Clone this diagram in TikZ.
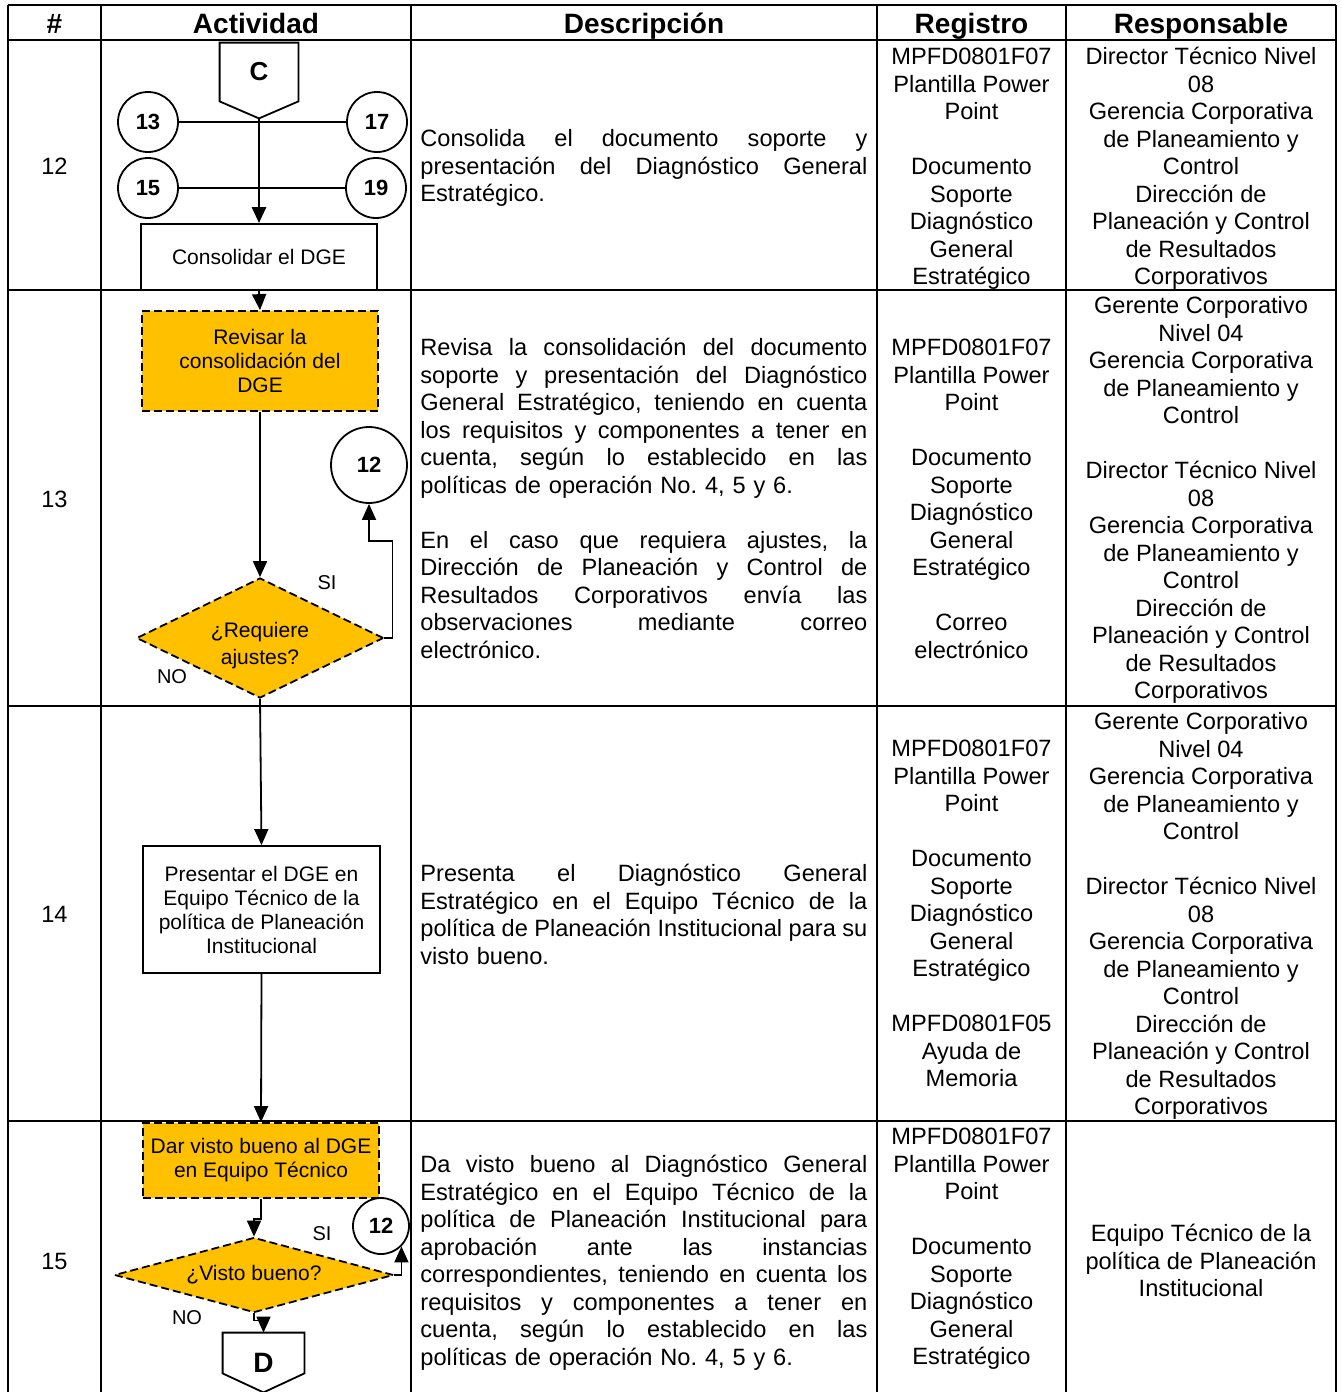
\documentclass[tikz,border=0pt]{standalone}
\usepackage{fontspec}
\setmainfont{Liberation Sans}
\usetikzlibrary{shapes.geometric,arrows.meta,calc}
\definecolor{gold}{HTML}{FFC000}
\newlength\dw \setlength\dw{223.5pt}
\newcommand\jl[1]{\leavevmode\hbox to\dw{\spaceskip=0.278em plus 1fil minus 0.1em\relax #1}}
\frenchspacing
\begin{document}
\begin{tikzpicture}[x=0.5pt,y=-0.5pt,
  tbl/.style={line width=1pt},
  body/.style={font=\fontsize{11.8pt}{13.75pt}\selectfont\frenchspacing, inner sep=0pt},
  hdr/.style={font=\fontsize{14pt}{16pt}\selectfont\bfseries, inner sep=0pt, anchor=base},
  flow/.style={font=\fontsize{10.5pt}{12pt}\selectfont, align=center, inner sep=1pt},
  proc/.style={flow, draw, line width=0.9pt, rectangle},
  dsh/.style={dash pattern=on 4pt off 2pt},
  dproc/.style={proc, dsh, fill=gold},
  dec/.style={flow, diamond, draw, line width=0.9pt, dsh, fill=gold, inner sep=0pt},
  conn/.style={circle, draw, line width=0.9pt, inner sep=0pt, font=\fontsize{11pt}{13pt}\selectfont\bfseries},
  lbl/.style={font=\fontsize{10pt}{12pt}\selectfont, inner sep=0pt},
  arr/.style={line width=0.9pt, -{Triangle[width=7pt,length=8pt]}},
  ln/.style={line width=0.8pt},
  pent/.style={line width=0.9pt}
]
\fill[white] (0,0) rectangle (1342,1392);
\useasboundingbox (0,0) rectangle (1342,1392);

% headers
\node[hdr] (h1) at (54.5,33) {\#};
\node[hdr] (h2) at (256,33) {Actividad};
\node[hdr] (h3) at (644,33) {Descripción};
\node[hdr] (h4) at (971.5,33) {Registro};
\node[hdr] (h5) at (1201,33) {Responsable};

% row numbers
\node[body] (n12) at (54.5,166) {12};
\node[body] (n13) at (54.5,499) {13};
\node[body] (n14) at (54.5,914) {14};
\node[body] (n15) at (54.5,1261) {15};

% ---------- row 12 flow ----------
\node[font=\fontsize{13pt}{15pt}\selectfont\bfseries, minimum width=39pt, minimum height=29pt, inner sep=0pt] (Cl) at (259,72) {C};
\draw[pent] (Cl.north west) -- (Cl.north east) -- (Cl.south east) -- ($(Cl.south)+(0,17)$) coordinate (Ctip) -- (Cl.south west) -- cycle;
\node[conn, minimum size=30pt] (c13) at (148,122) {13};
\node[conn, minimum size=30pt] (c17) at (377,122) {17};
\node[conn, minimum size=30pt] (c15) at (148,188) {15};
\node[conn, minimum size=30pt] (c19) at (376,188) {19};
\draw[ln] (c13) -- (c17);
\draw[ln] (c15) -- (c19);
\node[proc, minimum width=118pt, minimum height=33pt] (b1) at (259,257) {Consolidar el DGE};
\draw[line width=1.4pt, -{Triangle[width=7pt,length=8pt]}] (Ctip) -- (b1.north);

% ---------- row 13 flow ----------
\node[dproc, minimum width=118pt, minimum height=50pt] (rev) at (260,361) {Revisar la\\consolidación del\\DGE};
\draw[arr] (b1.south) -- (rev.north);
\node[dec, aspect=2.06, minimum width=123.5pt, minimum height=60pt] (d1) at (260,638) {\raisebox{-3.7pt}[\height][\depth]{\shortstack{¿Requiere\\[0.5pt]ajustes?}}};
\draw[arr] (rev.south) -- (d1.north);
\node[conn, minimum size=38pt] (c12a) at (369,465) {12};
\draw[arr] (d1.east) -- ++(8,0) |- ($(c12a.south)+(0,37)$) -- (c12a.south);
\node[lbl] (si1) at (327,583) {SI};
\node[lbl] (no1) at (172,677) {NO};

% ---------- row 14 flow ----------
\node[proc, minimum width=118.5pt, minimum height=63.5pt] (pres) at (261.5,909.5) {Presentar el DGE en\\Equipo Técnico de la\\política de Planeación\\Institucional};
\draw[arr] (d1.south) -- (pres.north);

% ---------- row 15 flow ----------
\node[dproc, minimum width=118pt, minimum height=37.5pt] (dar) at (261,1160.5) {Dar visto bueno al DGE\\en Equipo Técnico};
\draw[arr] (pres.south) -- (dar.north);
\node[dec, aspect=3.72, minimum width=139.5pt, minimum height=37.5pt] (d2) at (254,1275) {¿Visto bueno?};
\draw[arr] (dar.south) -- ++(0,20) -| (d2.north);
\node[conn, minimum size=28pt] (c12b) at (381,1226) {12};
\draw[arr] (d2.east) -| (c12b.-45);
\node[lbl] (si2) at (322,1234) {SI};
\node[lbl] (no2) at (187,1318) {NO};
\node[font=\fontsize{14pt}{16pt}\selectfont\bfseries, minimum width=40.5pt, minimum height=29.5pt, inner sep=0pt] (Dl) at (263.5,1362.5) {D};
\draw[pent] (Dl.north west) -- (Dl.north east) -- ($(Dl.south east)+(0,-19)$) -- (Dl.south) -- ($(Dl.south west)+(0,-19)$) -- cycle;
\draw[arr] (d2.south) -- ++(0,7) -| (Dl.north);

% ---------- descriptions ----------
\node[body, text width=\dw, align=left, anchor=north west] (ds12) at (420,127) {\strut\jl{Consolida el documento soporte y}\\\jl{presentación del Diagnóstico General}\\Estratégico.};
\node[body, text width=\dw, align=left, anchor=north west] (ds13) at (420,336) {\strut\jl{Revisa la consolidación del documento}\\\jl{soporte y presentación del Diagnóstico}\\\jl{General Estratégico, teniendo en cuenta}\\\jl{los requisitos y componentes a tener en}\\\jl{cuenta, según lo establecido en las}\\políticas de operación No. 4, 5 y 6.\\\mbox{}\\\jl{En el caso que requiera ajustes, la}\\\jl{Dirección de Planeación y Control de}\\\jl{Resultados Corporativos envía las}\\\jl{observaciones mediante correo}\\electrónico.};
\node[body, text width=\dw, align=left, anchor=north west] (ds14) at (420,862) {\strut\jl{Presenta el Diagnóstico General}\\\jl{Estratégico en el Equipo Técnico de la}\\\jl{política de Planeación Institucional para su}\\visto bueno.};
\node[body, text width=\dw, align=left, anchor=north west] (ds15) at (420,1153) {\strut\jl{Da visto bueno al Diagnóstico General}\\\jl{Estratégico en el Equipo Técnico de la}\\\jl{política de Planeación Institucional para}\\\jl{aprobación ante las instancias}\\\jl{correspondientes, teniendo en cuenta los}\\\jl{requisitos y componentes a tener en}\\\jl{cuenta, según lo establecido en las}\\políticas de operación No. 4, 5 y 6.};

% ---------- registro ----------
\node[body, align=center, anchor=north] (rg12) at (971.5,45) {\strut MPFD0801F07\\Plantilla Power\\Point\\\mbox{}\\Documento\\Soporte\\Diagnóstico\\General\\Estratégico};
\node[body, align=center, anchor=north] (rg13) at (971.5,336) {\strut MPFD0801F07\\Plantilla Power\\Point\\\mbox{}\\Documento\\Soporte\\Diagnóstico\\General\\Estratégico\\\mbox{}\\Correo\\electrónico};
\node[body, align=center, anchor=north] (rg14) at (971.5,737) {\strut MPFD0801F07\\Plantilla Power\\Point\\\mbox{}\\Documento\\Soporte\\Diagnóstico\\General\\Estratégico\\\mbox{}\\MPFD0801F05\\Ayuda de\\Memoria};
\node[body, align=center, anchor=north] (rg15) at (971.5,1125) {\strut MPFD0801F07\\Plantilla Power\\Point\\\mbox{}\\Documento\\Soporte\\Diagnóstico\\General\\Estratégico};

% ---------- responsable ----------
\node[body, align=center, anchor=north] (rs12) at (1201,45) {\strut Director Técnico Nivel\\08\\Gerencia Corporativa\\de Planeamiento y\\Control\\Dirección de\\Planeación y Control\\de Resultados\\Corporativos};
\node[body, align=center, anchor=north] (rs13) at (1201,294) {\strut Gerente Corporativo\\Nivel 04\\Gerencia Corporativa\\de Planeamiento y\\Control\\\mbox{}\\Director Técnico Nivel\\08\\Gerencia Corporativa\\de Planeamiento y\\Control\\Dirección de\\Planeación y Control\\de Resultados\\Corporativos};
\node[body, align=center, anchor=north] (rs14) at (1201,710) {\strut Gerente Corporativo\\Nivel 04\\Gerencia Corporativa\\de Planeamiento y\\Control\\\mbox{}\\Director Técnico Nivel\\08\\Gerencia Corporativa\\de Planeamiento y\\Control\\Dirección de\\Planeación y Control\\de Resultados\\Corporativos};
\node[body, align=center, anchor=north] (rs15) at (1201,1222) {\strut Equipo Técnico de la\\política de Planeación\\Institucional};

% ---------- table ----------
\draw[tbl] (8,5) -- (1336,5);
\draw[tbl] (8,40) -- (1336,40);
\draw[tbl] (8,290) -- (1336,290);
\draw[tbl] (8,706) -- (1336,706);
\draw[tbl] (8,1121) -- (1336,1121);
\foreach \xx in {8,101,411,877,1066,1336} \draw[tbl] (\xx,5) -- (\xx,1392);
\end{tikzpicture}
\end{document}
